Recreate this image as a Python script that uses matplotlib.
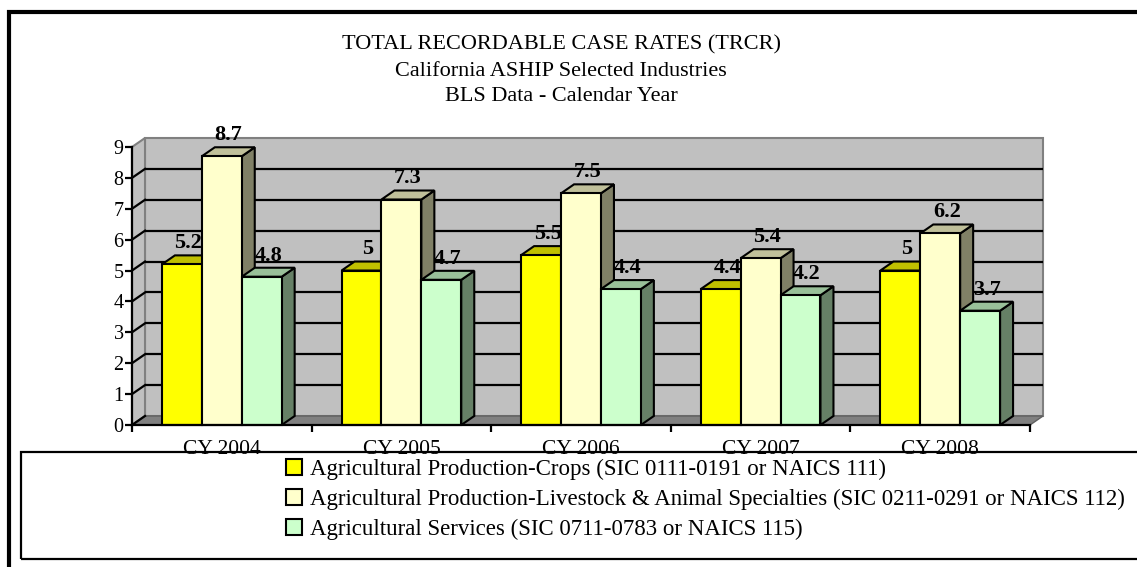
import numpy as np
import matplotlib
matplotlib.use("Agg")
import matplotlib.pyplot as plt
from matplotlib.patches import Polygon, Rectangle, Patch

plt.rcParams['font.family'] = ['Liberation Serif', 'DejaVu Serif']

title_lines = ["TOTAL RECORDABLE CASE RATES (TRCR)",
               "California ASHIP Selected Industries",
               "BLS Data - Calendar Year"]
categories = ["CY 2004", "CY 2005", "CY 2006", "CY 2007", "CY 2008"]
series_names = ["Agricultural Production-Crops (SIC 0111-0191 or NAICS 111)",
                "Agricultural Production-Livestock & Animal Specialties (SIC 0211-0291 or NAICS 112)",
                "Agricultural Services (SIC 0711-0783 or NAICS 115)"]
crops = [5.2, 5, 5.5, 4.4, 5]
livestock = [8.7, 7.3, 7.5, 5.4, 6.2]
services = [4.8, 4.7, 4.4, 4.2, 3.7]
y_ticks = list(range(0, 10))

series = [crops, livestock, services]
front_cols = ['#FFFF00', '#FFFFCC', '#CCFFCC']
top_cols = ['#C0C000', '#C0C09A', '#99C099']
side_cols = ['#808000', '#808066', '#668066']

W, H = 1137, 567
fig = plt.figure(figsize=(W / 100, H / 100), dpi=100)

def fx(p):
    return p / W

def fy(p):
    return 1 - p / H

# front plane of the 3d box, in pixels
x0, x1, ytop, ybot = 132, 1030, 147, 425
ax = fig.add_axes([fx(x0), fy(ybot), fx(x1 - x0), (ybot - ytop) / H])
n = len(categories)
ax.set_xlim(0, n)
ax.set_ylim(0, 9)
ax.set_facecolor('none')

# depth of the box in data units (13 px right, 9 px up)
dx = 13 / ((x1 - x0) / n)
dy = 9 / ((ybot - ytop) / 9)

# walls
ax.add_patch(Rectangle((dx, dy), n, 9, facecolor='#C0C0C0', edgecolor='#808080',
                       lw=1.5, zorder=0.5, clip_on=False))
ax.add_patch(Polygon([(0, 0), (dx, dy), (dx, 9 + dy), (0, 9)], closed=True,
                     facecolor='#C0C0C0', edgecolor='#808080', lw=1.5,
                     zorder=0.6, clip_on=False))
ax.add_patch(Polygon([(0, 0), (n, 0), (n + dx, dy), (dx, dy)], closed=True,
                     facecolor='#808080', edgecolor='#606060', lw=1,
                     zorder=0.7, clip_on=False))
for v in y_ticks[1:-1]:
    ax.plot([dx, n + dx], [v + dy, v + dy], color='black', lw=1.6,
            zorder=2, clip_on=False, solid_capstyle='butt')
for v in y_ticks[:-1]:
    ax.plot([0, dx], [v, v + dy], color='black', lw=1.6, zorder=2, clip_on=False)

# bars
w = 1 / 4.5
k = 0
for i in range(n):
    for j, vals in enumerate(series):
        v = vals[i]
        xl = i + 0.75 * w + j * w
        z = 3 + k * 0.01
        k += 1
        ax.add_patch(Polygon([(xl + w, 0), (xl + w + dx, dy), (xl + w + dx, v + dy), (xl + w, v)],
                             closed=True, facecolor=side_cols[j], edgecolor='black',
                             lw=1.5, zorder=z, clip_on=False))
        ax.add_patch(Polygon([(xl, v), (xl + w, v), (xl + w + dx, v + dy), (xl + dx, v + dy)],
                             closed=True, facecolor=top_cols[j], edgecolor='black',
                             lw=1.5, zorder=z, clip_on=False))
        b = ax.bar(xl, v, width=w, align='edge', color=front_cols[j],
                   edgecolor='black', lw=1.5, clip_on=False)
        b.patches[0].set_zorder(z + 0.005)
        ax.annotate(f"{v:g}", (xl + w / 2 + dx / 2, v + dy), xytext=(0, 1.5),
                    textcoords='offset points', ha='center', va='bottom',
                    fontsize=16, fontweight='bold', zorder=1.5,
                    annotation_clip=False)

for s in ['top', 'right']:
    ax.spines[s].set_visible(False)
for s in ['left', 'bottom']:
    ax.spines[s].set_linewidth(1.6)
    ax.spines[s].set_zorder(5)
ax.set_yticks(y_ticks)
ax.set_yticklabels([str(t) for t in y_ticks], fontsize=14.5)
ax.tick_params(axis='y', length=5, width=1.6, pad=1)
ax.set_xticks(np.arange(n + 1))
ax.set_xticklabels([])
ax.set_xticks(np.arange(n) + 0.5, minor=True)
ax.set_xticklabels(categories, minor=True, fontsize=15.5)
ax.tick_params(axis='x', which='major', length=5, width=1.6)
ax.tick_params(axis='x', which='minor', length=0, pad=11)

# title
for t, yp in zip(title_lines, [45, 71, 97]):
    fig.text(fx(561), fy(yp), t, ha='center', va='center', fontsize=16)

# legend box and outer border
fig.patches.append(Rectangle((fx(21), fy(559)), fx(1200), (559 - 452) / H,
                             transform=fig.transFigure, fill=False,
                             edgecolor='black', lw=1.6, zorder=4))
fig.patches.append(Rectangle((fx(9), fy(620)), fx(1200), (620 - 12) / H,
                             transform=fig.transFigure, fill=False,
                             edgecolor='black', lw=3, zorder=4))

handles = [Patch(facecolor=c, edgecolor='black', lw=1.5) for c in front_cols]
fig.legend(handles, series_names, loc='upper left',
           bbox_to_anchor=(fx(286), fy(459)), frameon=False, fontsize=16.5,
           handlelength=0.7, handleheight=0.7, handletextpad=0.35,
           labelspacing=0.38, borderpad=0, borderaxespad=0)

fig.savefig("out.png", dpi=100)
